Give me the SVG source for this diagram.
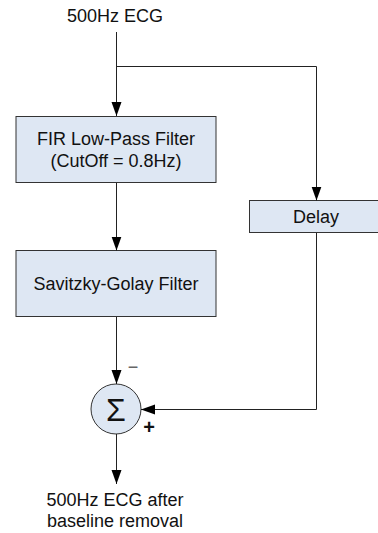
<svg xmlns="http://www.w3.org/2000/svg" width="378" height="533" viewBox="0 0 378 533">
<defs>
<marker id="ah" markerWidth="16" markerHeight="12" refX="14" refY="5.5" orient="auto" markerUnits="userSpaceOnUse">
<path d="M0,0.5 L14,5.5 L0,10.5 Z" fill="#000"/>
</marker>
<style>
.box{fill:#dee7f3;stroke:#333;stroke-width:1}
.t{font-family:"Liberation Sans",Arial,sans-serif;font-size:18px;fill:#111;text-anchor:middle}
.c{fill:none;stroke:#222;stroke-width:1}
</style>
</defs>
<rect width="378" height="533" fill="#fff"/>
<g id="input"><text class="t" x="115" y="22">500Hz ECG</text></g>
<g id="fir">
<rect class="box" x="16" y="116.5" width="200" height="66"/>
<text class="t" x="116" y="145">FIR Low-Pass Filter</text>
<text class="t" x="116" y="167">(CutOff = 0.8Hz)</text>
</g>
<g id="sg">
<rect class="box" x="16" y="250.5" width="200" height="66"/>
<text class="t" x="116" y="290">Savitzky-Golay Filter</text>
</g>
<g id="delay">
<rect class="box" x="249.5" y="200.5" width="135" height="32"/>
<text class="t" x="316" y="223">Delay</text>
</g>
<g id="sum">
<circle cx="116" cy="409" r="25" fill="#dee7f3" stroke="#333" stroke-width="1"/>
<text x="116" y="421" font-family="Liberation Sans,Arial,sans-serif" font-size="32" text-anchor="middle" fill="#111">Σ</text>
<text x="133" y="373" font-family="Liberation Sans,Arial,sans-serif" font-size="18" text-anchor="middle" fill="#666">−</text>
<text x="149" y="434" font-family="Liberation Sans,Arial,sans-serif" font-size="20" font-weight="bold" text-anchor="middle" fill="#111">+</text>
</g>
<g id="output">
<text class="t" x="115" y="506">500Hz ECG after</text>
<text class="t" x="115" y="527">baseline removal</text>
</g>
<g id="connectors">
<path class="c" d="M116.5,32 V116" marker-end="url(#ah)"/>
<path class="c" d="M116.5,66.5 H316.5 V200.5" marker-end="url(#ah)"/>
<path class="c" d="M116.5,183 V250.5" marker-end="url(#ah)"/>
<path class="c" d="M116.5,317 V384" marker-end="url(#ah)"/>
<path class="c" d="M316.5,233 V409.5 H141" marker-end="url(#ah)"/>
<path class="c" d="M116.5,434 V484" marker-end="url(#ah)"/>
</g>
</svg>
